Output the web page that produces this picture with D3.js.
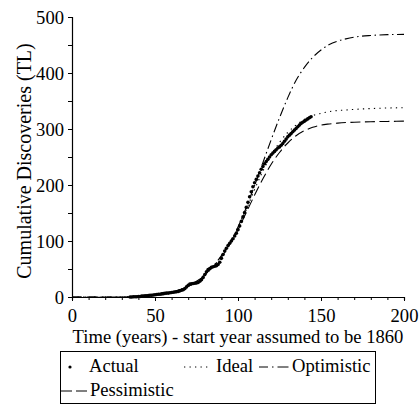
<!DOCTYPE html>
<html>
<head>
<meta charset="utf-8">
<script src="https://cdn.jsdelivr.net/npm/d3@7/dist/d3.min.js"></script>
<style>
  html, body { margin: 0; padding: 0; background: #fff; }
  svg { display: block; }
  text { font-family: "Liberation Serif", "Times New Roman", serif; fill: #000; }
</style>
</head>
<body>
<svg id="chart" width="419" height="410"></svg>
<script>
// ---- data ----
const actualYears = d3.range(35, 145);
const actualValues = [
  0, 0, 0.5, 0.5, 0.5, 1, 1, 1.5, 1.5, 2,
  2, 2.5, 3, 3, 3.5, 4, 4.5, 5, 5, 5.5,
  6, 6.5, 7, 7, 7.5, 8, 8.5, 9, 9.5, 10,
  11, 12, 13, 15, 18, 21, 23, 23.5, 24, 24.5,
  25, 26, 28, 31, 35, 40, 45, 49, 51, 53,
  54, 55, 56, 58, 62, 69, 76, 82, 87, 92,
  96, 100, 104, 109, 114, 120, 127, 135, 143, 151,
  160, 169, 179, 188, 197, 204, 210, 216, 222, 228,
  233, 238, 242, 246, 250, 254, 257, 260, 263, 266,
  268, 271, 274, 278, 282, 286, 289, 292, 295, 298,
  301, 304, 307, 310, 312, 314, 316, 318, 320, 322
];
const modelYears = [0, 10, 20, 30, 35, 40, 45, 50, 55, 60, 65, 70, 75, 80, 85, 90, 95, 100, 105, 110, 115, 120, 125, 130, 135, 140, 145, 150, 155, 160, 165, 170, 180, 190, 200];
const idealValues = [0, 0, 0, 0, 0.5, 1, 2, 4, 6, 9, 13, 19, 27, 39, 54, 72, 95, 122, 156, 192, 225, 253, 276, 294, 307, 317, 324, 328, 331, 333, 334, 335, 336.5, 337.5, 338];
const optimisticValues = [0, 0, 0, 0, 0.5, 1, 2, 4, 6, 9, 13, 19, 28, 40, 55, 74, 97, 125, 160, 199, 240, 281, 320, 356, 387, 410, 428, 441, 451, 457, 461, 464, 467, 468.5, 469];
const pessimisticValues = [0, 0, 0, 0, 0.5, 1, 2, 4, 6, 9, 13, 19, 27, 39, 54, 71, 94, 120, 151, 182, 211, 237, 258, 275, 288, 297, 303, 307, 309, 310.5, 311.5, 312, 313, 313.5, 314];
const xTicks = [0, 50, 100, 150, 200];
const yTicks = [0, 100, 200, 300, 400, 500];
const xLabel = "Time (years) - start year assumed to be 1860";
const yLabel = "Cumulative Discoveries (TL)";
const legendNames = ["Actual", "Ideal", "Optimistic", "Pessimistic"];

// ---- drawing ----
const svg = d3.select("#chart");
const x = d3.scaleLinear().domain([0, 200]).range([72, 404]);
const y = d3.scaleLinear().domain([0, 500]).range([297, 17]);
const FS = 18.6;
const SERIF = "'Liberation Serif', 'Times New Roman', serif";

// axes
const xAxisG = svg.append("g").attr("transform", `translate(0,${y(0)})`);
xAxisG.call(d3.axisBottom(x).tickValues(d3.range(0, 201, 10)).tickSize(3).tickFormat(""));
xAxisG.call(g => g.selectAll(".tick line").attr("y2", d => d % 50 === 0 ? 4 : 3));
const xAxisLab = svg.append("g").attr("transform", `translate(0,${y(0)})`);
xAxisLab.call(d3.axisBottom(x).tickValues(xTicks).tickSize(0).tickPadding(0).tickFormat(d3.format("d")));
xAxisLab.select(".domain").remove();
xAxisLab.selectAll("text").attr("font-size", FS).attr("dy", null).attr("y", 25);

const yAxisG = svg.append("g").attr("transform", `translate(${x(0)},0)`);
yAxisG.call(d3.axisLeft(y).tickValues(d3.range(0, 501, 50)).tickSize(4).tickFormat(""));
const yAxisLab = svg.append("g").attr("transform", `translate(${x(0)},0)`);
yAxisLab.call(d3.axisLeft(y).tickValues(yTicks).tickSize(0).tickPadding(8).tickFormat(d3.format("d")));
yAxisLab.select(".domain").remove();
yAxisLab.selectAll("text").attr("font-size", FS).attr("dy", "0.33em");

svg.selectAll(".domain").attr("stroke", "#000").attr("stroke-width", 1.2);
svg.selectAll(".tick line").attr("stroke", "#000").attr("stroke-width", 1);

// titles
svg.append("text").attr("x", (x(0) + x(200)) / 2).attr("y", 343)
  .attr("text-anchor", "middle").attr("font-size", FS).text(xLabel);
svg.append("text").attr("transform", `translate(31,${(y(0) + y(500)) / 2 + 4}) rotate(-90)`)
  .attr("text-anchor", "middle").attr("font-size", 20).text(yLabel);

// model lines
const line = d3.line().x(d => x(d[0])).y(d => y(d[1])).curve(d3.curveMonotoneX);
const series = [
  { vals: idealValues, dash: "1.3,4.2" },
  { vals: pessimisticValues, dash: "10,4.5" },
  { vals: optimisticValues, dash: "9,3.5,1.5,3.5" }
];
series.forEach(s => {
  svg.append("path")
    .datum(modelYears.map((t, i) => [t, s.vals[i]]))
    .attr("d", line)
    .attr("fill", "none").attr("stroke", "#000").attr("stroke-width", 1.1)
    .attr("stroke-dasharray", s.dash);
});

// actual points
svg.append("g").selectAll("circle")
  .data(actualYears.map((t, i) => [t, actualValues[i]]))
  .join("circle")
  .attr("cx", d => x(d[0])).attr("cy", d => y(d[1])).attr("r", 1.8).attr("fill", "#000");

// legend
const lg = svg.append("g");
lg.append("rect").attr("x", 60.5).attr("y", 351.5).attr("width", 315).attr("height", 52)
  .attr("fill", "none").attr("stroke", "#000").attr("stroke-width", 1);
const r1 = 372, r2 = 396;
lg.append("circle").attr("cx", 70).attr("cy", r1 - 5).attr("r", 1.6).attr("fill", "#000");
lg.append("text").attr("x", 89).attr("y", r1).attr("font-size", FS).text(legendNames[0]);
lg.append("line").attr("x1", 184).attr("x2", 211).attr("y1", r1 - 5).attr("y2", r1 - 5)
  .attr("stroke", "#000").attr("stroke-dasharray", "1.3,4.2");
lg.append("text").attr("x", 216).attr("y", r1).attr("font-size", FS).text(legendNames[1]);
lg.append("line").attr("x1", 259).attr("x2", 289).attr("y1", r1 - 5).attr("y2", r1 - 5)
  .attr("stroke", "#000").attr("stroke-dasharray", "9,4,1.5,4,11");
lg.append("text").attr("x", 292).attr("y", r1).attr("font-size", FS).text(legendNames[2]);
lg.append("line").attr("x1", 61).attr("x2", 88).attr("y1", r2 - 5).attr("y2", r2 - 5)
  .attr("stroke", "#000").attr("stroke-dasharray", "11,4");
lg.append("text").attr("x", 90).attr("y", r2).attr("font-size", FS).text(legendNames[3]);

svg.selectAll("text").attr("font-family", SERIF);
</script>
</body>
</html>
